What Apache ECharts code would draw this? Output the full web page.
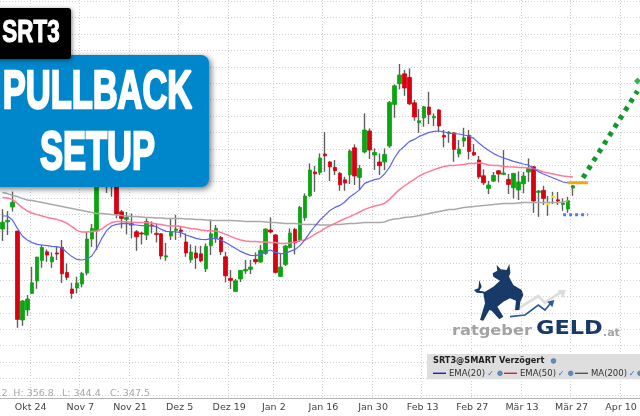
<!DOCTYPE html>
<html>
<head>
<meta charset="utf-8">
<style>html,body{margin:0;padding:0;background:#fff}#c{width:640px;height:416px}</style>
<script src="https://cdn.jsdelivr.net/npm/echarts@6/dist/echarts.min.js"></script>
</head>
<body>
<div id="c"></div>
<script>
const tickLabels = ["Okt 24","Nov 7","Nov 21","Dez 5","Dez 19","Jan 2","Jan 16","Jan 30","Feb 13","Feb 27","Mär 13","Mär 27","Apr 10"];
const tickIndexes = [6,16,26,36,46,55,65,75,85,95,105,115,125];
const sessionCount = 129;

const opens = [328.9,332.5,339.9,327.9,283.4,288.4,296.7,302.9,313.2,317.5,
312.5,316.9,319.7,307.2,298.9,299.4,301.4,306.9,323.9,327.9,
358.4,363.4,360.9,358.4,337.5,333.7,331.5,327.5,326.9,325.9,
330.9,326.7,326.5,314.9,325.4,328.2,328.4,322.4,313.5,316.9,
316.5,309,320.5,324.2,324.7,315,304.2,297.7,303.9,307.9,
308.7,313.7,312.4,316.7,328.4,325.9,305.2,311.2,319.7,328.7,
323.4,334.5,345.5,357.4,357.2,366.4,362.4,359.7,356.7,353.5,
356,369.5,354.7,367.4,377.9,365.9,362.4,362.4,370.4,391.2,
401.5,406.5,404.7,392,382,384.5,389.9,384.5,388.4,375.7,
376.7,377,366.4,372.9,375.7,367.2,363.4,355.5,349.2,352.9,
358,356.2,353.7,349.5,348.4,351.5,357.4,360,347.2,348.2,
341.7,345.4,343.5,341.2,338.9,349.4];
const closes = [332.3,333.2,342.3,283.7,292.9,293.9,302,314.9,319.7,315.9,
314.9,316.4,306.5,304.7,296.7,301.9,306.7,323.9,329.2,363.4,
368.4,355.9,353.4,336.4,334.2,334.7,330.9,325,326.4,332.7,
330.4,326.2,315.4,315.5,327.5,328.9,327.7,316.9,317.4,314.4,
313,320.2,326.5,329.2,317.5,305.5,303.2,303,308.2,308.7,
309.9,312.5,318.2,328.9,327.4,307.2,309.9,320.4,326.9,322,
339.7,345.4,358.4,356.5,364.4,365.5,360,358,351,351.9,
367.9,355.4,359.2,378.4,368.4,367.2,360.5,366.2,392.2,400.5,
405.9,399.4,391.5,384.9,383,390,386.2,385.2,380.4,374.9,
377.2,368.7,368.9,374.5,367.7,365.9,355,352,350.9,355.7,
356.4,356.9,351.2,356.7,352.4,355.4,359.2,342.9,347.9,344.2,
340.9,344.7,342.9,341.9,343,350.5];
const highs = [338.8,337.9,347.6,327.9,293.4,295.9,310,314.9,320.9,318.7,
317.2,320.4,323.4,311.7,302,305,307.5,327.4,331.4,368.4,
373.4,368.4,364.4,360.9,338.4,337.4,336.7,328.4,327.5,334.2,
332.7,331.7,326.9,321.9,334,336,330,326.7,321.2,320.5,
320.5,321.7,333.7,330.9,325.4,317.5,308.4,303.9,308.4,313.4,
313.4,317.2,320.9,329.2,334.7,326.4,316.7,320.9,329.2,329.5,
340.4,346.7,361.7,360.4,366.7,377.4,362.9,363.4,357.5,355,
368.7,371.2,360.9,386.7,379.2,369.2,366.7,369.2,392.9,401.2,
411.4,408.4,409.2,393.4,388.9,390.4,397.5,386.7,388.9,378.4,
377.9,377.2,373.4,379.5,378.4,371.4,365.5,358.7,353,357.4,
358.4,368.4,356.4,357,357.7,357.4,364.2,360.4,348.4,350.5,
345.4,347.5,347.4,344.2,345,350.9];
const lows = [322.9,325.9,337.6,279.5,280.5,285.5,296.6,299,309.5,312.5,
309.5,313.4,301.9,303.4,294,296.7,299.7,305.7,320,318.4,
354.4,346.9,345,334.2,329.2,326.2,324.2,318,321.2,323.4,
326.7,322.2,313.7,313,323.4,323.4,324.7,315,312,309,
312.2,307.4,315.9,322,315.9,302.2,298.9,297.4,302.4,306.5,
306.4,311.2,312,316,326.7,306.7,305,310.4,319.2,316.2,
322.5,333,345,347.5,355.9,357.5,352.9,355.9,348,348,
351.4,350.9,348.4,366.7,363.9,358.4,355.9,358.4,369.5,384.5,
398.7,395.5,390.9,383,377,380,381.4,380.4,377.5,369.7,
372,362.5,364.7,370,363.7,365.4,354,350.9,346.4,352.4,
352.2,356,346.4,344.2,343.4,346.7,352.5,337,335,340.9,
335.5,341.4,340.9,338,337,345.5];
const dojiSessions = [110,111];

const ema20 = [335.4,335.4,333.4,329.2,325.4,323.4,322.1,321.2,320.9,320.6,
320.2,320.1,319.4,317.1,315.1,313.7,313.4,313.9,315.4,319.2,
324.2,328.1,330.4,331.2,331.6,331.7,331.2,330.9,330.6,330.6,
330.6,330.1,328.7,327.7,327.6,327.4,327.1,325.9,325.1,324.2,
323.7,323.6,324.1,324.2,323.4,322.1,320.6,319.1,317.7,316.6,
315.7,315.6,316.2,317.4,318.4,317.2,316.6,316.7,317.7,318.7,
320.7,323.7,327.2,330.4,333.4,335.7,338.2,339.7,340.7,342.4,
344.9,346.6,348.6,351.7,352.7,353.6,354.1,356.4,359.7,364.4,
368.1,370.3,372.6,373.7,375.2,376.2,377.2,377.7,377.9,377.4,
376.9,376.6,376.4,375.9,375.4,374.2,371.9,369.9,368.2,366.6,
365.4,364.4,363.6,362.7,362.1,361.4,360.9,359.2,357.6,356.4,
355.4,354.4,353.4,352.4,351.9];
const ema50 = [344.6,344.4,343.7,341.7,339.6,337.9,336.9,336.1,335.4,334.7,
334.2,333.6,332.9,331.7,330.1,328.2,327.4,327.4,327.7,327.9,
328.9,330.7,332.1,332.6,332.6,332.4,332.4,332.1,332.1,332.1,
331.9,331.4,331.2,330.6,330.4,330.4,330.1,329.6,329.2,328.9,
328.4,328.1,327.9,327.9,327.2,326.2,325.2,324.2,323.4,322.9,
322.7,322.6,322.4,322.4,322.2,322.1,321.7,321.7,321.9,322.4,
323.1,323.4,324.7,326.4,327.6,329.2,330.6,331.7,332.9,334.1,
335.1,336.2,337.4,338.7,339.6,340.4,340.9,341.7,343.7,346.2,
348.6,350.4,352.1,353.7,355.4,356.7,357.6,358.6,359.4,360.2,
360.6,360.7,360.9,361.2,361.6,361.7,362,361.6,360.9,360.7,
360.6,360.2,360,359.9,359.7,359.6,359.4,359.1,358.4,357.4,
356.9,356.4,355.9,355.4,355.1,354.9];
const ma200 = [347.1,346.6,345.7,345.1,344.2,343.4,343.1,342.6,342.2,341.7,
341.2,340.7,340.2,339.7,339.2,338.7,338.2,337.7,337.2,336.7,
336.6,336.4,336.1,335.9,335.6,335.4,335.2,335.1,334.9,334.7,
334.6,334.4,334.4,334.2,334.2,334.1,334.1,333.9,333.9,333.7,
333.6,333.4,333.2,333.1,333.1,333.1,333.1,333,332.9,332.7,
332.7,332.6,332.6,332.4,332.2,332.1,331.9,331.7,331.6,331.6,
331.4,331.2,331.2,331.1,330.9,330.9,330.9,331.1,331.2,331.4,
331.6,331.7,331.9,332.1,332.1,332.2,332.2,332.4,333.4,333.9,
334.2,334.7,334.9,335.2,335.6,336.2,336.7,337.2,337.7,338.2,
338.6,338.7,339.1,339.6,339.9,340.2,340.4,340.7,340.9,341.2,
341.4,341.6,341.7,341.7,341.9,342.1,342.1,342.1,342.1,342.2,
342.2,342.2,342.2,342.4,342.9];

const entryLevel = 352;
const stopLevel = 336;
const targetPath = [354.5,397.9];
const targetTip = 402.9;

const categories = Array.from({length:sessionCount},(_,i)=>{const k=tickIndexes.indexOf(i);return k>=0?tickLabels[k]:'';});
const pad = (start,vals)=>{const a=new Array(sessionCount).fill(null);vals.forEach((v,i)=>a[start+i]=v);return a;};
const fullPad = (vals)=>pad(0,vals);

const green='#0ca512', red='#d9000f', yellow='#f2e21a', wick='#606060';
const bodyColor=i=>dojiSessions.includes(i)?yellow:(closes[i]>opens[i]?green:red);

const wickData = opens.map((o,i)=>[o,closes[i],lows[i],highs[i]]);
const bodyData = opens.map((o,i)=>({value:[o,closes[i],Math.min(o,closes[i]),Math.max(o,closes[i])],itemStyle:{color:bodyColor(i),color0:bodyColor(i),borderColor:bodyColor(i),borderColor0:bodyColor(i)}}));

const isTick=(idx)=>tickIndexes.includes(idx);
const dotted={color:'#cfcfcf',type:[1,2],width:1};
const T=(o)=>Object.assign({type:'text',silent:true},o);

const legendFont='8.5px "DejaVu Sans"';
const globe=(x,y)=>({type:'circle',shape:{cx:x,cy:y,r:2.4},style:{fill:'#5b8fc4',stroke:'#44607f',lineWidth:.5},z:60});
const check=(x,y)=>T({style:{x:x,y:y,text:'✓',fill:'#2a6fd6',font:'bold 8px "DejaVu Sans"',textAlign:'center',textVerticalAlign:'middle'},z:60});
const legendLabel=(x,y,t,extra)=>T({style:Object.assign({x:x,y:y,text:t,fill:'#333',font:legendFont,textVerticalAlign:'middle'},extra||{}),z:60});
const legendLine=(x1,x2,y,c)=>({type:'line',shape:{x1:x1,y1:y,x2:x2,y2:y},style:{stroke:c,lineWidth:1.4},z:60});

const option={
 animation:false,
 backgroundColor:'#fff',
 grid:[
  {left:0,width:642.4,top:1.2,height:393.6},
  {left:-0.6,width:642.4,top:0,height:398.6}
 ],
 xAxis:[
  {type:'category',gridIndex:0,data:categories,boundaryGap:true,axisLine:{show:false},axisTick:{show:false},axisLabel:{show:false},splitLine:{show:false}},
  {type:'category',gridIndex:1,data:categories,boundaryGap:true,
   axisLine:{show:true,lineStyle:{color:'#b5b5b5',width:1.2}},
   axisTick:{show:false},
   axisLabel:{show:true,interval:(i)=>isTick(i),color:'#444',fontFamily:'DejaVu Sans',fontSize:9.5,margin:4,padding:[0,3,0,0],hideOverlap:false},
   splitLine:{show:true,interval:(i)=>isTick(i),lineStyle:dotted}}
 ],
 yAxis:[
  {type:'value',gridIndex:0,min:246,max:442.8,interval:8.2,axisLine:{show:false},axisTick:{show:false},axisLabel:{show:false},splitLine:{show:true,lineStyle:dotted}},
  {type:'value',gridIndex:1,min:0,max:1,show:false,splitLine:{show:false}}
 ],
 series:[
  {name:'wick',type:'candlestick',data:wickData,barWidth:1,z:3,silent:true,
   itemStyle:{color:wick,color0:wick,borderColor:wick,borderColor0:wick,borderWidth:1.4}},
  {name:'SRT3',type:'candlestick',data:bodyData,barWidth:4,z:4,silent:true,itemStyle:{borderWidth:.8}},
  {name:'MA(200)',type:'line',data:fullPad(ma200),showSymbol:false,symbol:'none',z:5,lineStyle:{color:'#a9a9a9',width:1.5},silent:true},
  {name:'EMA(50)',type:'line',data:fullPad(ema50),showSymbol:false,symbol:'none',z:5,lineStyle:{color:'#ff7a98',width:1.5},silent:true},
  {name:'EMA(20)',type:'line',data:fullPad(ema20),showSymbol:false,symbol:'none',z:5,lineStyle:{color:'#5a64f5',width:1.2},silent:true},
  {name:'entry',type:'line',data:pad(114,[entryLevel,entryLevel,entryLevel,entryLevel,entryLevel]),symbol:'none',z:6,lineStyle:{color:'#f5a31c',width:3},silent:true},
  {name:'stop',type:'line',data:pad(113,[stopLevel,stopLevel,stopLevel,stopLevel,stopLevel,stopLevel]),symbol:'none',z:6,lineStyle:{color:'#4f7df0',width:3,type:[3,3]},silent:true},
  {name:'target',type:'line',data:(()=>{const a=new Array(sessionCount).fill(null);a[117]=targetPath[0];a[128]=targetPath[1];return a;})(),connectNulls:true,symbol:'none',z:6,lineStyle:{color:'#109a2c',width:5,type:[4.5,5.4]},silent:true},
  {name:'targetTip',type:'scatter',data:pad(128,[targetTip]),symbol:'rect',symbolSize:5,symbolRotate:45,z:6,itemStyle:{color:'#109a2c'},silent:true}
 ],
 graphic:[
  {type:'rect',shape:{x:-12,y:55,width:221,height:132,r:8},style:{fill:'#0087cb',shadowBlur:6,shadowColor:'rgba(0,0,0,0.55)',shadowOffsetX:2,shadowOffsetY:2},z:50},
  T({x:97.5,y:93.5,scaleX:.65,style:{x:0,y:0,text:'PULLBACK',fill:'#fff',stroke:'#fff',lineWidth:2.4,font:'bold 53px "Liberation Sans"',textAlign:'center',textVerticalAlign:'middle'},z:51}),
  T({x:97.5,y:154,scaleX:.65,style:{x:0,y:0,text:'SETUP',fill:'#fff',stroke:'#fff',lineWidth:2.4,font:'bold 53px "Liberation Sans"',textAlign:'center',textVerticalAlign:'middle'},z:51}),
  {type:'rect',shape:{x:-12,y:8,width:83,height:51,r:3},style:{fill:'#000',shadowBlur:4,shadowColor:'rgba(0,0,0,0.5)',shadowOffsetX:1,shadowOffsetY:1},z:52},
  T({x:31,y:33,scaleX:.7,style:{x:0,y:0,text:'SRT3',fill:'#fff',stroke:'#fff',lineWidth:1.2,font:'bold 32px "Liberation Sans"',textAlign:'center',textVerticalAlign:'middle'},z:53}),

  {type:'group',x:460,y:260,scaleX:1/3,scaleY:1/3,z:40,children:[
    {type:'polyline',shape:{points:[[165,152],[235,108],[255,128],[305,95]]},style:{stroke:'#dedede',lineWidth:8,fill:null},z:40},
    {type:'polygon',shape:{points:[[318,90],[292,90],[310,115]]},style:{fill:'#dedede'},z:40},
    {type:'polyline',shape:{points:[[150,170],[195,165],[235,135],[255,150],[272,130]]},style:{stroke:'#2d5a94',lineWidth:5,fill:null},z:41},
    {type:'polygon',shape:{points:[[283,120],[262,125],[277,142]]},style:{fill:'#2d5a94'},z:41},
    {type:'polygon',shape:{points:[[110,15],[122,28],[140,30],[148,12],[151,38],[147,50],[160,75],[185,90],[190,105],[181,125],[178,150],[165,150],[168,122],[150,115],[130,125],[112,140],[130,170],[118,178],[95,152],[88,150],[70,182],[60,180],[75,130],[70,100],[50,98],[42,90],[55,85],[58,60],[65,80],[58,92],[75,95],[100,80],[120,62],[100,50],[98,40],[112,32]]},style:{fill:'#173a68'},z:42}
  ]},
  T({x:452,y:331,scaleX:1.12,style:{x:0,y:0,text:'ratgeber',fill:'#a3a3a3',font:'bold 14.5px "DejaVu Sans"',textVerticalAlign:'middle'},z:42}),
  T({x:536,y:329.5,scaleX:1.18,style:{x:0,y:0,text:'GELD',fill:'#173a68',font:'bold 19px "DejaVu Sans"',textVerticalAlign:'middle'},z:42}),
  T({x:603,y:333,style:{x:0,y:0,text:'.at',fill:'#a3a3a3',font:'bold 11px "DejaVu Sans"',textVerticalAlign:'middle'},z:42}),

  {type:'rect',shape:{x:427,y:354,width:214,height:25.3},style:{fill:'#dedede'},z:59},
  legendLabel(433,361,'SRT3@SMART Verzögert',{font:'bold 8.2px "DejaVu Sans"',fill:'#222'}),
  globe(553.5,361),
  legendLine(433,446,373.3,'#1a1ae0'),legendLabel(449,373.5,'EMA(20)'),check(490.7,373.5),globe(500,373.3),
  legendLine(504,517,373.3,'#e01a30'),legendLabel(520,373.5,'EMA(50)'),check(561,373.5),globe(570.7,373.3),
  legendLine(575,588,373.3,'#555'),legendLabel(591,373.5,'MA(200)'),check(632,373.5),globe(640,373.3),

  T({style:{x:1.5,y:394,text:'2',fill:'#a8a8a8',font:'9.5px "DejaVu Sans"',textVerticalAlign:'middle'},z:30}),
  T({style:{x:13.3,y:394,text:'H: 356.8',fill:'#a8a8a8',font:'9.5px "DejaVu Sans"',textVerticalAlign:'middle'},z:30}),
  T({style:{x:62,y:394,text:'L: 344.4',fill:'#a8a8a8',font:'9.5px "DejaVu Sans"',textVerticalAlign:'middle'},z:30}),
  T({style:{x:110,y:394,text:'C: 347.5',fill:'#a8a8a8',font:'9.5px "DejaVu Sans"',textVerticalAlign:'middle'},z:30})
 ]
};
const chart=echarts.init(document.getElementById('c'),null,{renderer:'canvas',width:640,height:416});
chart.setOption(option);
</script>
</body>
</html>
